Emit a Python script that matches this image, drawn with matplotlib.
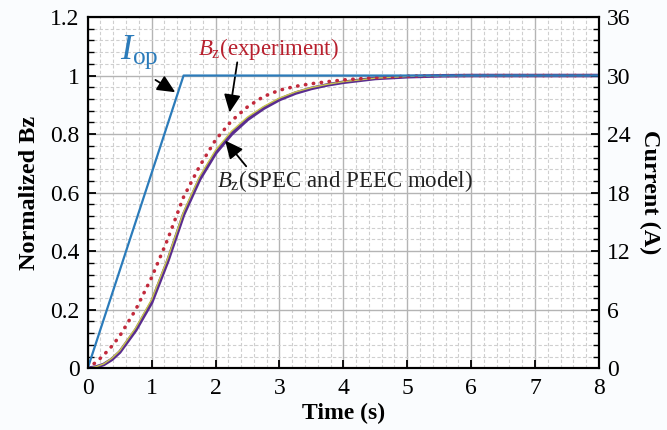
import matplotlib
matplotlib.use("Agg")
import matplotlib.pyplot as plt
from matplotlib.ticker import MultipleLocator

plt.rcParams['font.family'] = ['Liberation Serif', 'DejaVu Serif']
plt.rcParams['mathtext.fontset'] = 'custom'
plt.rcParams['mathtext.rm'] = 'Liberation Serif'
plt.rcParams['mathtext.it'] = 'Liberation Serif:italic'

# values
t = [0, 0.125, 0.25, 0.375, 0.5, 0.75, 1.0, 1.25, 1.5, 1.75, 2.0, 2.25, 2.5,
     2.75, 3.0, 3.25, 3.5, 3.75, 4.0, 4.5, 5.0, 5.5, 6.0, 7.0, 8.0]
bz_peec = [0, 0.004, 0.013, 0.03, 0.055, 0.13, 0.225, 0.365, 0.525, 0.645,
           0.735, 0.80, 0.85, 0.888, 0.918, 0.94, 0.956, 0.968, 0.977, 0.99,
           0.996, 0.999, 1, 1, 1]
bz_spec = [0, 0.005, 0.015, 0.034, 0.06, 0.138, 0.235, 0.375, 0.535, 0.655,
           0.745, 0.81, 0.858, 0.894, 0.923, 0.944, 0.959, 0.97, 0.979, 0.991,
           0.997, 0.999, 1, 1, 1]
bz_exp = [0, 0.02, 0.045, 0.075, 0.11, 0.20, 0.31, 0.44, 0.585, 0.69, 0.78,
          0.845, 0.893, 0.928, 0.95, 0.963, 0.972, 0.979, 0.985, 0.993, 0.998,
          1, 1, 1, 1]
t_iop = [0, 1.5, 8]
i_op = [0, 30, 30]

xticks = [0, 1, 2, 3, 4, 5, 6, 7, 8]
yticks = [0, 0.2, 0.4, 0.6, 0.8, 1.0, 1.2]
ylabels = ['0', '0.2', '0.4', '0.6', '0.8', '1', '1.2']
rticks = [0, 6, 12, 18, 24, 30, 36]

fig = plt.figure(figsize=(6.67, 4.30), dpi=100)
fig.patch.set_facecolor('#fafcfe')
ax = fig.add_axes([0.1315, 0.1435, 0.7665, 0.817])
ax2 = ax.twinx()

ax.set_xlim(0, 8)
ax.set_ylim(0, 1.2)
ax2.set_ylim(0, 36)

ax.set_xticks(xticks)
ax.set_yticks(yticks)
ax.set_yticklabels(ylabels)
ax.xaxis.set_minor_locator(MultipleLocator(0.2))
ax.yaxis.set_minor_locator(MultipleLocator(0.04))
ax2.set_yticks(rticks)
ax2.yaxis.set_minor_locator(MultipleLocator(1.2))

ax.grid(which='major', color='#b4b4b4', lw=1.0)
ax.grid(which='minor', color='#cfcfcf', lw=0.8, ls=(0, (3, 2)))
ax.set_axisbelow(True)

ax.tick_params(axis='both', which='major', direction='in', length=6, width=1.3, labelsize=17, pad=6)
ax.tick_params(axis='x', which='major', pad=7)
ax.tick_params(axis='y', which='minor', direction='in', length=4, width=1.0)
ax.tick_params(axis='x', which='minor', length=0)
ax2.tick_params(axis='y', which='major', direction='in', length=6, width=1.3, labelsize=17, pad=6)
ax2.tick_params(axis='y', which='minor', direction='in', length=4, width=1.0)

for a in (ax, ax2):
    for s in a.spines.values():
        s.set_linewidth(1.5)

ax.plot(t, bz_peec, color='#5a2d90', lw=2.6, zorder=3)
ax.plot(t, bz_spec, color='#c9c84e', lw=1.0, zorder=4)
ax.plot(t, bz_exp, color='#c22a3c', lw=2.6, ls=(0, (0.1, 2.1)),
        dash_capstyle='round', zorder=5)
ax2.plot(t_iop, i_op, color='#2b7bba', lw=1.6)

ax.set_xlabel('Time (s)', fontsize=17, fontweight='bold', labelpad=3)
ax.set_ylabel('Normalized Bz', fontsize=17.5, fontweight='bold', labelpad=7)
ax2.set_ylabel('Current (A)', fontsize=17.5, fontweight='bold', rotation=270, labelpad=21)

arrow = dict(arrowstyle='-|>,head_length=0.6,head_width=0.28', color='black',
             lw=1.3, mutation_scale=18, shrinkA=0, shrinkB=0)

ax.text(0.80, 1.08, r'$I_{\mathrm{op}}$', color='#2b7bba', fontsize=26, ha='center', va='center')
ax.annotate('', xy=(1.37, 0.943), xytext=(1.06, 0.985), arrowprops=arrow)

ax.text(1.73, 1.09, r'$B_{\mathrm{z}}$(experiment)', color='#b8202e', fontsize=16.5, ha='left', va='center')
ax.annotate('', xy=(2.22, 0.874), xytext=(2.34, 1.045), arrowprops=arrow)

ax.text(2.02, 0.64, r'$B_{\mathrm{z}}$(SPEC and PEEC model)', color='#222222', fontsize=16.5, ha='left', va='center')
ax.annotate('', xy=(2.15, 0.778), xytext=(2.48, 0.69), arrowprops=arrow)

fig.savefig('out.png', dpi=100, facecolor=fig.get_facecolor())
